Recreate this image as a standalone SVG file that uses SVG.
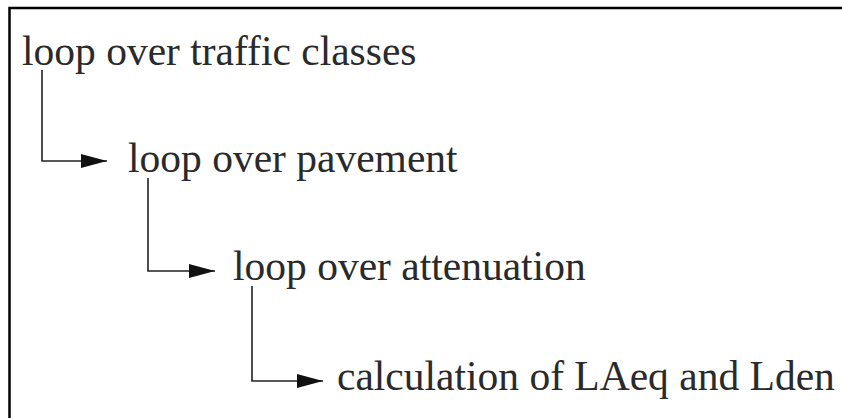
<svg xmlns="http://www.w3.org/2000/svg" width="842" height="418" viewBox="0 0 842 418">
<style>
text{font-family:"Liberation Serif","Times New Roman",serif;font-size:41.5px;fill:#2a2a2a}
.c{fill:none;stroke:#222;stroke-width:1.6}
</style>
<defs><marker id="a" viewBox="0 0 26 14" refX="26" refY="7" markerWidth="26" markerHeight="14" markerUnits="userSpaceOnUse" orient="auto"><path d="M0,0 L26,7 L0,14 Z" fill="#111"/></marker></defs>
<rect width="842" height="418" fill="#fff"/>
<path d="M9.5,418 V8 H842" fill="none" stroke="#000" stroke-width="2.5"/>
<g id="connectors">
<path class="c" d="M42,70 V161 H107" marker-end="url(#a)"/>
<path class="c" d="M148,178 V271 H215" marker-end="url(#a)"/>
<path class="c" d="M252,286 V381 H323" marker-end="url(#a)"/>
</g>
<g id="n1"><text x="22" y="65">loop over traffic classes</text></g>
<g id="n2"><text x="128" y="172">loop over pavement</text></g>
<g id="n3"><text x="233" y="280">loop over attenuation</text></g>
<g id="n4"><text x="337" y="390">calculation of LAeq and Lden</text></g>
</svg>
